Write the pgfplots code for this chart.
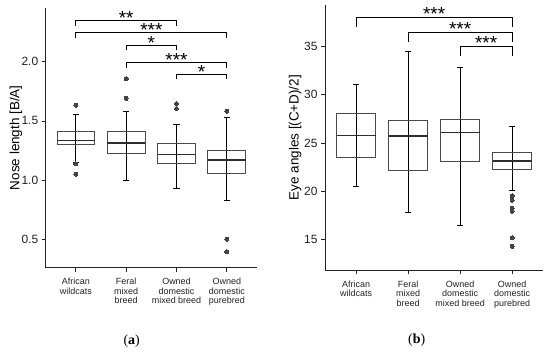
\documentclass[border=0pt]{standalone}
\usepackage{fontspec}
\setmainfont{Liberation Sans}
\newfontfamily\serifcap{Liberation Serif}
\usepackage{pgfplots}
\pgfplotsset{compat=1.18}
\usepgfplotslibrary{statistics}

\definecolor{boxc}{HTML}{4A4A4A}
\definecolor{medc}{HTML}{2E2E2E}
\definecolor{outc}{HTML}{444444}
\definecolor{axc}{HTML}{222222}

\tikzset{sigstar/.style={anchor=base, inner sep=0pt, font=\fontsize{19}{19}\selectfont}}

\pgfplotsset{
  catstyle/.style={
    scale only axis,
    xmin=0.4, xmax=4.6,
    axis x line*=bottom, axis y line*=left,
    axis line style={axc, line width=0.9bp},
    tick align=outside,
    major tick length=4bp,
    tick style={axc, line width=0.8bp},
    xtick={1,2,3,4},
    xticklabels={{African\\wildcats},{Feral\\mixed\\breed},{Owned\\domestic\\mixed breed},{Owned\\domestic\\purebred}},
    xticklabel style={align=center, font=\fontsize{9}{9.7}\selectfont, text=axc, yshift=-3bp},
    yticklabel style={font=\fontsize{12}{14}\selectfont, text=axc},
    ylabel style={font=\fontsize{13.5}{16}\selectfont, anchor=center},
    /pgf/number format/assume math mode=true,
    boxplot/draw direction=y,
    boxplot/box extend=0.75,
    boxplot/whisker extend=0.12,
    boxplot/every box/.style={draw=boxc, line width=0.9bp},
    boxplot/every median/.style={draw=medc, line width=1.7bp},
    boxplot/every whisker/.style={draw=black, line width=1bp},
    clip=false,
  },
  bx/.style={draw=boxc, mark=*, mark size=2bp, mark options={fill=outc, draw=outc, line width=0pt}},
  wl/.style={black, line width=1bp, no marks, forget plot},
  br/.style={black, line width=0.8bp, no marks, forget plot},
}

\begin{document}
\begin{tikzpicture}
\useasboundingbox (0,0) rectangle (550bp,352bp);

% ---------------- panel (a)
\begin{axis}[catstyle,
  at={(45.7bp,84.5bp)}, anchor=south west,
  width=211.3bp, height=259.5bp,
  ymin=0.262, ymax=2.4535,
  ytick={0.5,1,1.5,2},
  yticklabel style={/pgf/number format/fixed, /pgf/number format/fixed zerofill, /pgf/number format/precision=1},
  ylabel={Nose length [B/A]},
  ylabel style={at={(axis description cs:-0.1406,0.5)}},
]
% whisker lines through boxes
\addplot[wl] coordinates {(1,1.145) (1,1.557)};
\addplot[wl] coordinates {(2,0.997) (2,1.582)};
\addplot[wl] coordinates {(3,0.927) (3,1.470)};
\addplot[wl] coordinates {(4,0.831) (4,1.531)};
% boxes
\addplot[bx, boxplot prepared={lower whisker=1.145, lower quartile=1.303, median=1.334, upper quartile=1.413, upper whisker=1.557, draw position=1}]
  table[row sep=\\, y index=0] {y\\1.633\\1.137\\1.050\\};
\addplot[bx, boxplot prepared={lower whisker=0.997, lower quartile=1.227, median=1.312, upper quartile=1.410, upper whisker=1.582, draw position=2}]
  table[row sep=\\, y index=0] {y\\1.855\\1.690\\};
\addplot[bx, boxplot prepared={lower whisker=0.927, lower quartile=1.137, median=1.216, upper quartile=1.309, upper whisker=1.470, draw position=3}]
  table[row sep=\\, y index=0] {y\\1.647\\1.605\\};
\addplot[bx, boxplot prepared={lower whisker=0.831, lower quartile=1.056, median=1.171, upper quartile=1.247, upper whisker=1.531, draw position=4}]
  table[row sep=\\, y index=0] {y\\1.582\\0.500\\0.393\\};
% significance brackets
\addplot[br] coordinates {(1,2.302) (1,2.352) (3,2.352) (3,2.302)};
\addplot[br] coordinates {(1,2.198) (1,2.245) (4,2.245) (4,2.198)};
\addplot[br] coordinates {(2,2.099) (2,2.141) (3,2.141) (3,2.099)};
\addplot[br] coordinates {(2,1.944) (2,1.995) (4,1.995) (4,1.944)};
\addplot[br] coordinates {(3,1.854) (3,1.896) (4,1.896) (4,1.854)};
\node[sigstar, yshift=-4bp] at (axis cs:2,2.352) {**};
\node[sigstar, yshift=-4bp] at (axis cs:2.5,2.245) {***};
\node[sigstar, yshift=-4bp] at (axis cs:2.5,2.141) {*};
\node[sigstar, yshift=-4bp] at (axis cs:3,1.995) {***};
\node[sigstar, yshift=-4bp] at (axis cs:3.5,1.896) {*};
\end{axis}

% ---------------- panel (b)
\begin{axis}[catstyle,
  at={(325bp,81.7bp)}, anchor=south west,
  width=218.3bp, height=265.3bp,
  ymin=11.79, ymax=39.32,
  ytick={15,20,25,30,35},
  ylabel={Eye angles [(C+D)/2]},
  ylabel style={at={(axis description cs:-0.137,0.5)}},
]
\addplot[wl] coordinates {(1,20.52) (1,31.11)};
\addplot[wl] coordinates {(2,17.75) (2,34.48)};
\addplot[wl] coordinates {(3,16.47) (3,32.86)};
\addplot[wl] coordinates {(4,20.03) (4,26.69)};
\addplot[bx, boxplot prepared={lower whisker=20.52, lower quartile=23.48, median=25.79, upper quartile=28.06, upper whisker=31.11, draw position=1}]
  coordinates {};
\addplot[bx, boxplot prepared={lower whisker=17.75, lower quartile=22.10, median=25.73, upper quartile=27.34, upper whisker=34.48, draw position=2}]
  coordinates {};
\addplot[bx, boxplot prepared={lower whisker=16.47, lower quartile=23.06, median=26.10, upper quartile=27.49, upper whisker=32.86, draw position=3}]
  coordinates {};
\addplot[bx, boxplot prepared={lower whisker=20.03, lower quartile=22.23, median=23.16, upper quartile=24.07, upper whisker=26.69, draw position=4}]
  table[row sep=\\, y index=0] {y\\19.51\\19.07\\18.24\\17.93\\15.17\\14.27\\};
\addplot[br] coordinates {(1,37.07) (1,38.04) (4,38.04) (4,37.07)};
\addplot[br] coordinates {(2,35.52) (2,36.49) (4,36.49) (4,35.52)};
\addplot[br] coordinates {(3,34.04) (3,35.00) (4,35.00) (4,34.04)};
\node[sigstar, yshift=-2.8bp] at (axis cs:2.5,38.04) {***};
\node[sigstar, yshift=-2.8bp] at (axis cs:3,36.49) {***};
\node[sigstar, yshift=-2.8bp] at (axis cs:3.5,35.00) {***};
\end{axis}

\node[font=\serifcap\fontsize{14}{16}\selectfont] at (131.7bp,11bp) {(\textbf{a})};
\node[font=\serifcap\fontsize{14}{16}\selectfont] at (416.7bp,12bp) {(\textbf{b})};
\end{tikzpicture}
\end{document}
